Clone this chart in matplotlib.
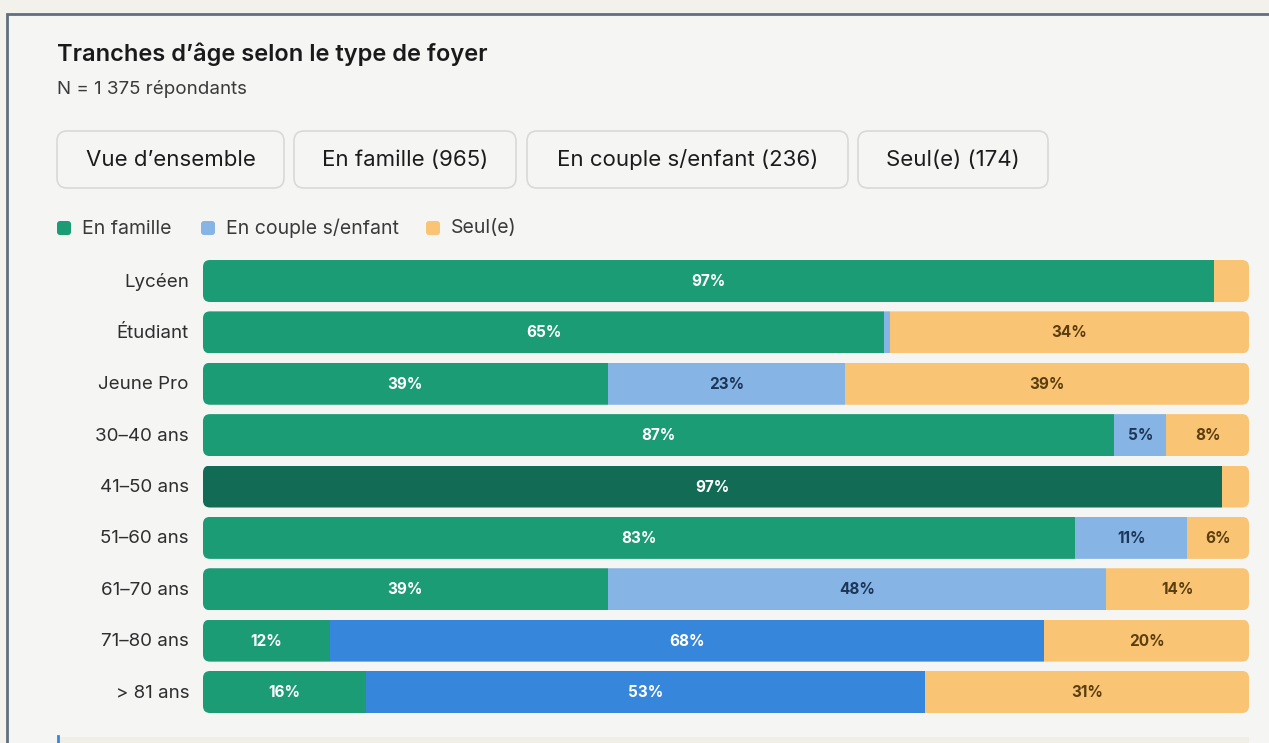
import matplotlib

matplotlib.use("Agg")

import matplotlib.pyplot as plt
from matplotlib.patches import FancyBboxPatch, Rectangle

plt.rcParams["font.family"] = ["Inter", "DejaVu Sans"]

# donnees
categories = ["Lycéen", "Étudiant", "Jeune Pro", "30–40 ans", "41–50 ans",
              "51–60 ans", "61–70 ans", "71–80 ans", "> 81 ans"]
en_famille = [96.7, 65.1, 38.7, 87.1, 97.4, 83.4, 38.7, 12.1, 15.6]
en_couple = [0.0, 0.6, 22.7, 5.0, 0.0, 10.7, 47.6, 68.3, 53.4]
seul = [3.3, 34.3, 38.6, 7.9, 2.6, 5.9, 13.7, 19.6, 31.0]
series_names = ["En famille", "En couple s/enfant", "Seul(e)"]
buttons = ["Vue d’ensemble", "En famille (965)", "En couple s/enfant (236)", "Seul(e) (174)"]

GREEN = "#1b9c74"
GREEN_DARK = "#116b55"
BLUE_LIGHT = "#85b4e5"
BLUE = "#3687db"
ORANGE = "#f9c574"
TXT_BLUE = "#1d3557"
TXT_ORANGE = "#5b3d0f"

W, H = 1269, 743
fig = plt.figure(figsize=(W / 100, H / 100), dpi=100)
fig.patch.set_facecolor("#f3f1ec")

# fond en pixels
bg = fig.add_axes([0, 0, 1, 1])
bg.set_xlim(0, W)
bg.set_ylim(H, 0)
bg.axis("off")
bg.add_patch(Rectangle((7, 14), W, H, facecolor="#f5f5f4", edgecolor="#5f6f80", linewidth=2))
bg.add_patch(Rectangle((58, 737), 1191, 10, facecolor="#f1ede7", edgecolor="none"))
bg.plot([58, 58], [736, 743], color="#3687db", linewidth=2)

bg.text(57, 54, "Tranches d’âge selon le type de foyer", fontsize=17, fontweight="semibold",
        color="#1a1a1a", va="center")
bg.text(57, 89, "N = 1 375 répondants", fontsize=13.5, color="#3a3a3a", va="center")

# boutons
btn_x = [(57, 284), (294, 516), (527, 848), (858, 1048)]
for (x0, x1), label in zip(btn_x, buttons):
    bg.add_patch(FancyBboxPatch((x0, 131), x1 - x0, 57, boxstyle="round,pad=0,rounding_size=10",
                                facecolor="#f5f5f4", edgecolor="#d9d9d7", linewidth=1.2))
    bg.text((x0 + x1) / 2, 160, label, fontsize=16, color="#1c1c1c", ha="center", va="center")

# legende
leg_x = [57, 201, 426]
for x, name, col in zip(leg_x, series_names, [GREEN, BLUE_LIGHT, ORANGE]):
    bg.add_patch(FancyBboxPatch((x, 221), 14, 14, boxstyle="round,pad=0,rounding_size=3",
                                facecolor=col, edgecolor="none"))
    bg.text(x + 25, 228.5, name, fontsize=14, color="#3a3a3a", va="center")

# graphique
row_h = 51.375
y_top = 281 - row_h / 2
y_bot = 692 + row_h / 2
ax = fig.add_axes([203 / W, 1 - y_bot / H, (1249 - 203) / W, (y_bot - y_top) / H])
ax.set_xlim(0, 100)
ax.set_ylim(len(categories) - 0.5, -0.5)
ax.axis("off")
ax.patch.set_alpha(0)

bar_h = 42 / row_h
px_x = (1249 - 203) / 100
px_y = row_h
radius = 7
aspect = (radius / px_y) / (radius / px_x)

for i, cat in enumerate(categories):
    c_green = GREEN_DARK if i == 4 else GREEN
    c_blue = BLUE if i >= 7 else BLUE_LIGHT
    t_blue = "white" if i >= 7 else TXT_BLUE
    vals = [en_famille[i], en_couple[i], seul[i]]
    cols = [c_green, c_blue, ORANGE]
    tcols = ["white", t_blue, TXT_ORANGE]

    clip = FancyBboxPatch((0, i - bar_h / 2), 100, bar_h,
                          boxstyle=f"round,pad=0,rounding_size={radius / px_x}",
                          mutation_aspect=aspect, transform=ax.transData)
    left = 0
    for v, c, tc in zip(vals, cols, tcols):
        if v > 0:
            bars = ax.barh(i, v, left=left, height=bar_h, color=c, edgecolor="none")
            for b in bars:
                b.set_clip_path(clip)
            if v >= 4.5:
                ax.text(left + v / 2, i + 0.01, f"{round(v)}%", ha="center", va="center",
                        fontsize=11, fontweight="bold", color=tc)
        left += v
    bg.text(189, 282 + i * row_h, cat, fontsize=13.5, color="#2e2e2e", ha="right", va="center")

fig.savefig("out.png", dpi=100, facecolor=fig.get_facecolor())
